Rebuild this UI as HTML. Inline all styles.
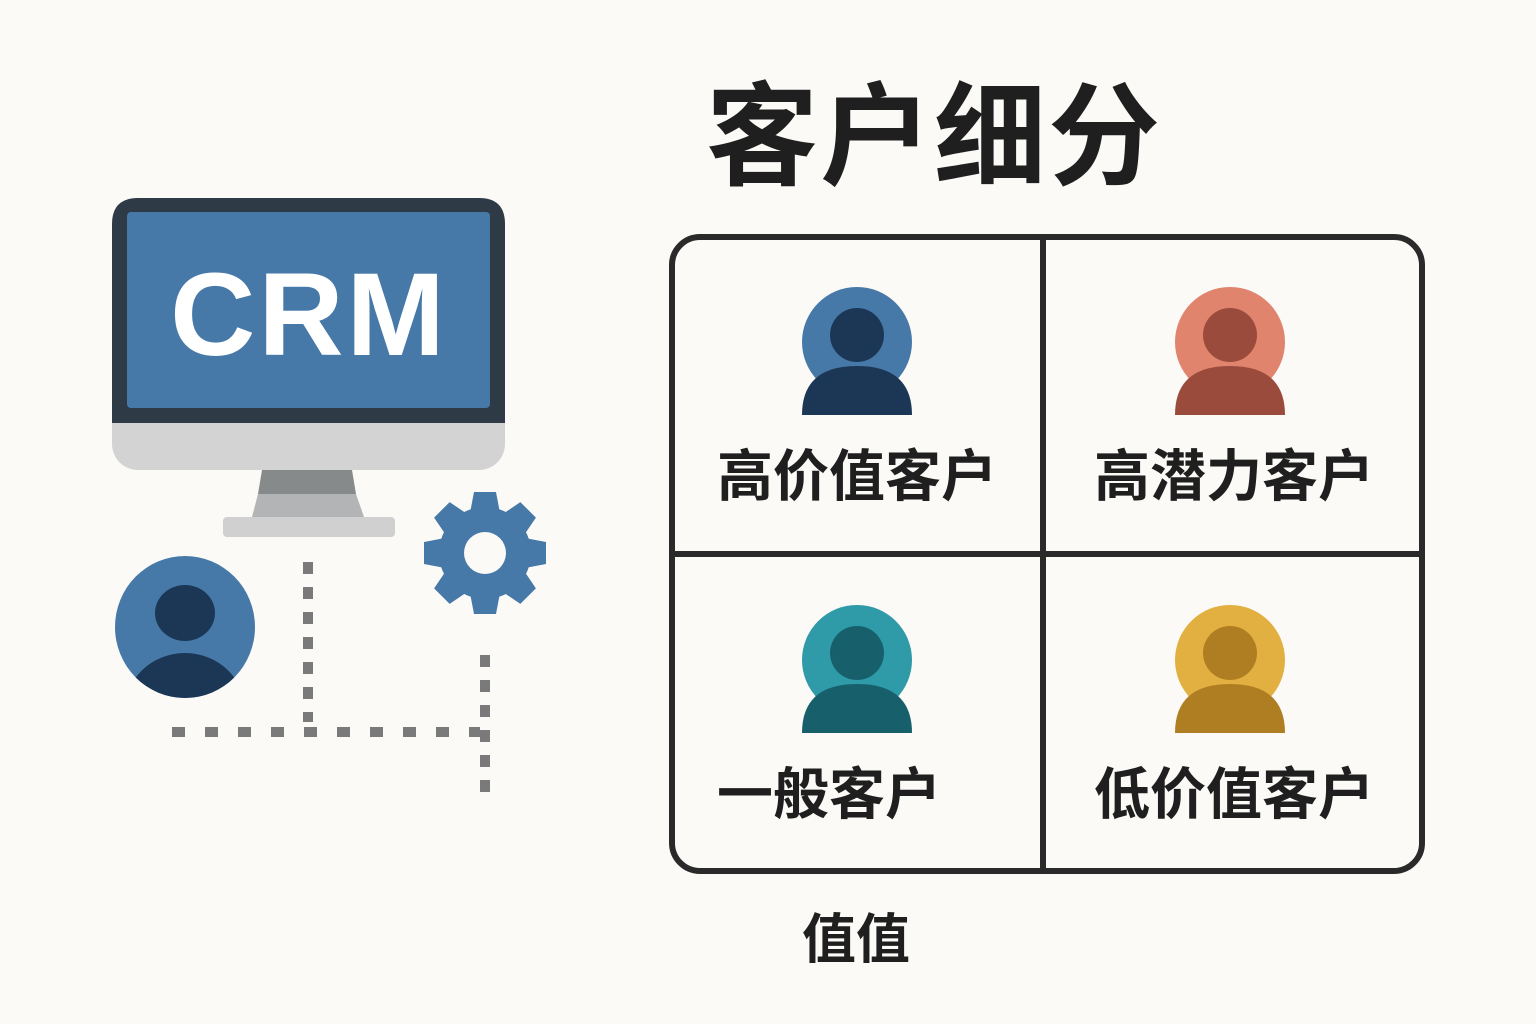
<!DOCTYPE html>
<html><head><meta charset="utf-8"><style>
html,body{margin:0;padding:0;background:#fbfaf7;}
body{width:1536px;height:1024px;position:relative;overflow:hidden;font-family:"Liberation Sans","Noto Sans CJK SC",sans-serif;}
.t{position:absolute;font-family:"Noto Sans CJK SC",sans-serif;font-weight:700;color:#1f1f1f;white-space:nowrap;line-height:1;}
</style></head><body>
<svg width="1536" height="1024" style="position:absolute;left:0;top:0">
<rect x="112" y="198" width="393" height="272" rx="26" fill="#d3d3d3"/>
<path d="M112 224 Q112 198 138 198 H479 Q505 198 505 224 V423 H112 Z" fill="#2e3b47"/>
<rect x="127" y="212" width="363" height="196" rx="4" fill="#4679a8"/>
<text x="309" y="355" text-anchor="middle" font-family="Liberation Sans,sans-serif" font-weight="bold" font-size="118" letter-spacing="3" fill="#fff">CRM</text>
<polygon points="262,470 352,470 356,494 258,494" fill="#878a8b"/>
<polygon points="258,494 356,494 364,517 252,517" fill="#b3b4b5"/>
<rect x="223" y="517" width="172" height="20" rx="4" fill="#d0d0d0"/>
<clipPath id="pc"><ellipse cx="185" cy="627" rx="70" ry="71"/></clipPath>
<ellipse cx="185" cy="627" rx="70" ry="71" fill="#4679a8"/>
<ellipse cx="185" cy="613" rx="30" ry="28" fill="#1c3756"/>
<ellipse cx="185" cy="710" rx="60" ry="57" fill="#1c3756" clip-path="url(#pc)"/>
<g transform="translate(485,553)" fill="#4679a8">
<circle r="46"/>
<g id="tooth"><path d="M-15 -40 L-11 -61 H11 L15 -40 Z"/></g>
<use href="#tooth" transform="rotate(45)"/><use href="#tooth" transform="rotate(90)"/><use href="#tooth" transform="rotate(135)"/>
<use href="#tooth" transform="rotate(180)"/><use href="#tooth" transform="rotate(225)"/><use href="#tooth" transform="rotate(270)"/><use href="#tooth" transform="rotate(315)"/>
<circle r="21" fill="#fbfaf7"/>
</g>
<g stroke="#7a7a7a" stroke-width="10" fill="none">
<line x1="308" y1="562" x2="308" y2="722" stroke-dasharray="12 13"/>
<line x1="172" y1="732" x2="480" y2="732" stroke-dasharray="13 20"/>
<line x1="485" y1="655" x2="485" y2="792" stroke-dasharray="12 13"/>
</g>
<rect x="672" y="237" width="750" height="634" rx="28" fill="#fbfaf7" stroke="#2a2a2a" stroke-width="6"/>
<line x1="1043" y1="237" x2="1043" y2="871" stroke="#2a2a2a" stroke-width="6"/>
<line x1="672" y1="554" x2="1422" y2="554" stroke="#2a2a2a" stroke-width="6"/>
<g transform="translate(857,342)">
<circle r="55" fill="#4679a8"/><ellipse cy="-7" rx="27" ry="27" fill="#1c3756"/>
<path d="M-55 73 Q-55 24 0 24 Q55 24 55 73 Z" fill="#1c3756"/>
</g>
<g transform="translate(1230,342)">
<circle r="55" fill="#e0846d"/><ellipse cy="-7" rx="27" ry="27" fill="#9a4b3c"/>
<path d="M-55 73 Q-55 24 0 24 Q55 24 55 73 Z" fill="#9a4b3c"/>
</g>
<g transform="translate(857,660)">
<circle r="55" fill="#2f9aa8"/><ellipse cy="-7" rx="27" ry="27" fill="#17606b"/>
<path d="M-55 73 Q-55 24 0 24 Q55 24 55 73 Z" fill="#17606b"/>
</g>
<g transform="translate(1230,660)">
<circle r="55" fill="#e2b040"/><ellipse cy="-7" rx="27" ry="27" fill="#b07e22"/>
<path d="M-55 73 Q-55 24 0 24 Q55 24 55 73 Z" fill="#b07e22"/>
</g>
</svg>
<div class="t" style="left:706px;top:72px;font-size:112px;letter-spacing:2px">客户细分</div>
<div class="t" style="left:717px;top:445px;font-size:56px">高价值客户</div>
<div class="t" style="left:1094px;top:445px;font-size:56px">高潜力客户</div>
<div class="t" style="left:717px;top:763px;font-size:56px">一般客户</div>
<div class="t" style="left:1094px;top:763px;font-size:56px">低价值客户</div>
<div class="t" style="left:802px;top:908px;font-size:54px">值值</div>
</body></html>
